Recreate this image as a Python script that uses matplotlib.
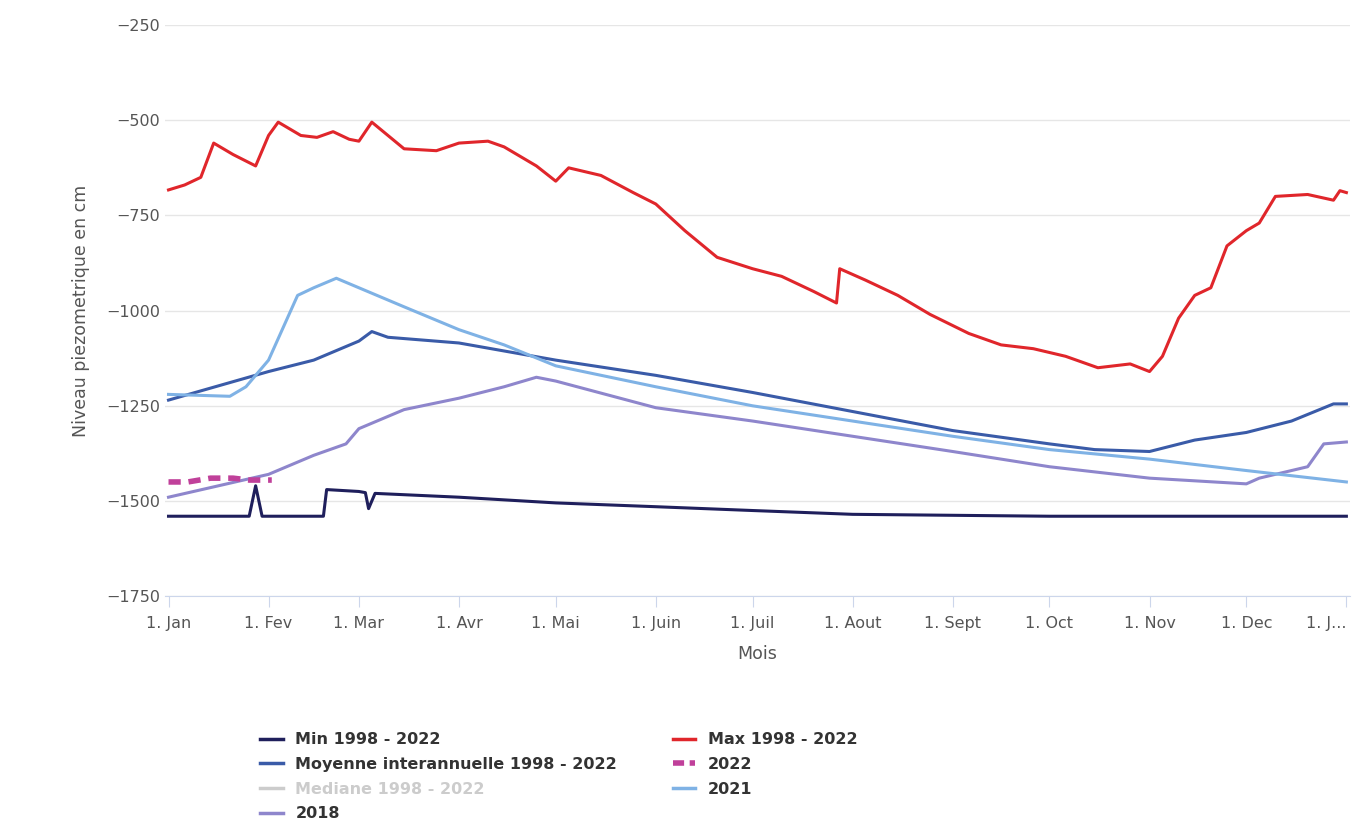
import matplotlib.pyplot as plt
import numpy as np
from matplotlib.lines import Line2D

# day of year (0 = 1 Jan) and level in cm
max_d = [0, 5, 10, 14, 20, 27, 31, 34, 41, 46, 51, 56, 59, 63, 68, 73, 83, 90, 99, 104, 114, 120, 124, 134, 144, 151, 160, 170, 181, 190, 200, 207, 208, 216, 226, 236, 248, 258, 268, 278, 288, 298, 304, 308, 313, 318, 323, 328, 334, 338, 343, 353, 361, 363, 365]
max_v = [-683, -670, -650, -560, -590, -620, -540, -505, -540, -545, -530, -550, -555, -505, -540, -575, -580, -560, -555, -570, -620, -660, -625, -645, -690, -720, -790, -860, -890, -910, -950, -980, -890, -920, -960, -1010, -1060, -1090, -1100, -1120, -1150, -1140, -1160, -1120, -1020, -960, -940, -830, -790, -770, -700, -695, -710, -685, -690]

mean_d = [0, 31, 45, 59, 63, 68, 90, 120, 151, 181, 212, 243, 273, 287, 304, 318, 334, 348, 361, 365]
mean_v = [-1235, -1160, -1130, -1080, -1055, -1070, -1085, -1130, -1170, -1215, -1265, -1315, -1350, -1365, -1370, -1340, -1320, -1290, -1245, -1245]

y2021_d = [0, 19, 24, 31, 40, 45, 52, 59, 73, 90, 104, 120, 151, 181, 212, 243, 273, 304, 334, 365]
y2021_v = [-1220, -1225, -1200, -1130, -960, -940, -915, -940, -990, -1050, -1090, -1145, -1200, -1250, -1290, -1330, -1365, -1390, -1420, -1450]

y2018_d = [0, 31, 45, 55, 59, 73, 90, 104, 114, 120, 151, 181, 212, 243, 273, 304, 334, 338, 353, 358, 365]
y2018_v = [-1490, -1430, -1380, -1350, -1310, -1260, -1230, -1200, -1175, -1185, -1255, -1290, -1330, -1370, -1410, -1440, -1455, -1440, -1410, -1350, -1345]

min_d = [0, 25, 27, 29, 48, 49, 59, 61, 62, 64, 90, 120, 151, 181, 212, 273, 365]
min_v = [-1540, -1540, -1460, -1540, -1540, -1470, -1475, -1478, -1520, -1480, -1490, -1505, -1515, -1525, -1535, -1540, -1540]

y2022_d = [0, 6, 13, 20, 25, 32]
y2022_v = [-1450, -1450, -1440, -1440, -1445, -1445]

month_days = [0, 31, 59, 90, 120, 151, 181, 212, 243, 273, 304, 334, 365]
month_labels = ['1. Jan', '1. Fev', '1. Mar', '1. Avr', '1. Mai', '1. Juin', '1. Juil',
                '1. Aout', '1. Sept', '1. Oct', '1. Nov', '1. Dec', '1. J...']

c_min, c_max, c_mean = '#1f1f5c', '#e0262b', '#3a5ba8'
c_2022, c_2021, c_2018, c_med = '#c0409a', '#7fb2e5', '#8e86cc', '#cccccc'

fig = plt.figure(figsize=(13.66, 8.35), dpi=100)
ax = fig.add_axes([0.121, 0.286, 0.867, 0.684])

ax.plot(min_d, min_v, color=c_min, lw=2.2)
ax.plot(mean_d, mean_v, color=c_mean, lw=2.2)
ax.plot(y2018_d, y2018_v, color=c_2018, lw=2.2)
ax.plot(y2021_d, y2021_v, color=c_2021, lw=2.2)
ax.plot(max_d, max_v, color=c_max, lw=2.2)
ax.plot(y2022_d, y2022_v, color=c_2022, lw=4, ls=(0, (2.2, 1.4)))

ax.set_xlim(-1, 366)
ax.set_ylim(-1750, -250)
ax.set_yticks(np.arange(-1750, -249, 250))
ax.set_xticks(month_days)
ax.set_xticklabels(month_labels)
ax.get_xticklabels()[-1].set_horizontalalignment('right')
ax.tick_params(axis='both', colors='#555555', labelsize=11.5, length=0)
ax.tick_params(axis='x', length=8, color='#ccd6eb', pad=6)
ax.grid(axis='y', color='#e6e6e6', lw=1)
for s in ['top', 'right', 'left']:
    ax.spines[s].set_visible(False)
ax.spines['bottom'].set_color('#ccd6eb')
ax.set_xlabel('Mois', fontsize=12.5, color='#555555', labelpad=10)
ax.set_ylabel('Niveau piezometrique en cm', fontsize=12.5, color='#555555', labelpad=12)

handles = [Line2D([], [], color=c_min, lw=2.5), Line2D([], [], color=c_mean, lw=2.5),
           Line2D([], [], color=c_med, lw=2.5), Line2D([], [], color=c_2018, lw=2.5),
           Line2D([], [], color=c_max, lw=2.5), Line2D([], [], color=c_2022, lw=4, ls=(0, (2, 1))),
           Line2D([], [], color=c_2021, lw=2.5)]
labels = ['Min 1998 - 2022', 'Moyenne interannuelle 1998 - 2022', 'Mediane 1998 - 2022', '2018',
          'Max 1998 - 2022', '2022', '2021']
leg = fig.legend(handles, labels, ncol=2, loc='upper left', bbox_to_anchor=(0.18, 0.14),
                 frameon=False, prop={'weight': 'bold', 'size': 11.5}, handlelength=1.4,
                 columnspacing=3.5, labelspacing=0.6)
for t, lab in zip(leg.get_texts(), labels):
    t.set_color('#cccccc' if lab.startswith('Mediane') else '#333333')

fig.savefig('out.png')
